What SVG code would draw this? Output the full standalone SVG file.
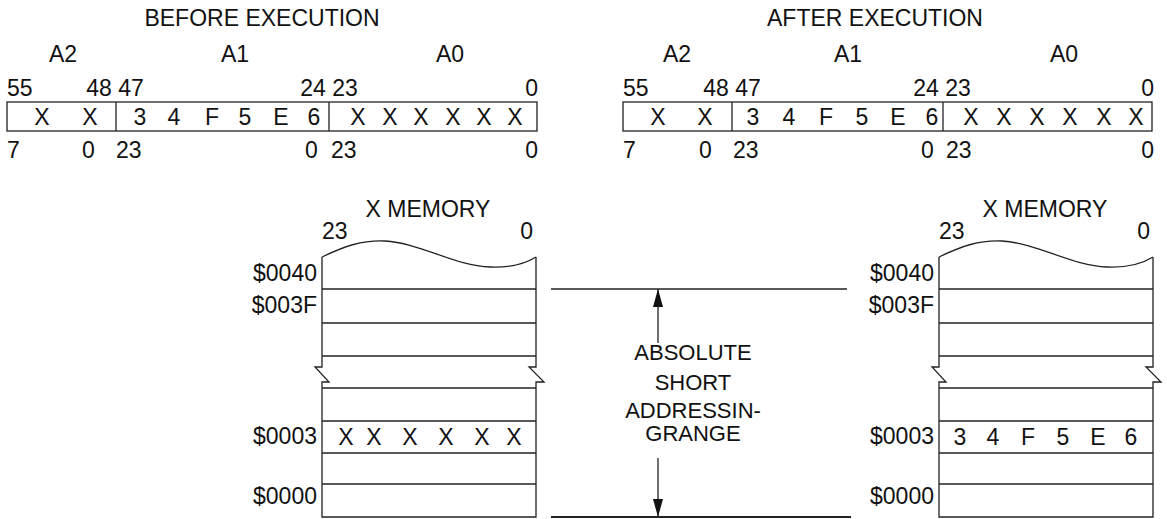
<svg xmlns="http://www.w3.org/2000/svg" width="1167" height="519" viewBox="0 0 1167 519">
<defs>
<style>
text{font-family:"Liberation Sans",Arial,sans-serif;font-size:23px;fill:#111}
.m{text-anchor:middle}
.e{text-anchor:end}
.s{font-size:22px}
.ln{stroke:#222;stroke-width:1.3;fill:none}
</style>
<marker id="ah" viewBox="0 0 18 10" refX="18" refY="5" markerWidth="18" markerHeight="10" markerUnits="userSpaceOnUse" orient="auto">
<path d="M0,0 L18,5 L0,10 Z" fill="#111"/>
</marker>
</defs>
<rect width="1167" height="519" fill="#fff"/>

<g id="before-register">
<text class="m" x="262" y="26">BEFORE EXECUTION</text>
<text class="m" x="63" y="62">A2</text>
<text class="m" x="235" y="62">A1</text>
<text class="m" x="450" y="62">A0</text>
<text x="7" y="96">55</text>
<text class="m" x="115" y="96">48 47</text>
<text class="m" x="329" y="96">24 23</text>
<text class="e" x="538" y="96">0</text>
<rect class="ln" x="7" y="102" width="530" height="29"/>
<line class="ln" x1="116" y1="102" x2="116" y2="131"/>
<line class="ln" x1="329" y1="102" x2="329" y2="131"/>
<text class="m" x="42" y="125">X</text>
<text class="m" x="90" y="125">X</text>
<text class="m" x="140" y="125">3</text>
<text class="m" x="174" y="125">4</text>
<text class="m" x="212" y="125">F</text>
<text class="m" x="245" y="125">5</text>
<text class="m" x="281" y="125">E</text>
<text class="m" x="314" y="125">6</text>
<text class="m" x="358" y="125">X</text>
<text class="m" x="390" y="125">X</text>
<text class="m" x="421" y="125">X</text>
<text class="m" x="453" y="125">X</text>
<text class="m" x="484" y="125">X</text>
<text class="m" x="515" y="125">X</text>
<text x="7" y="158">7</text>
<text x="82" y="158">0</text>
<text x="116" y="158">23</text>
<text x="305" y="158">0</text>
<text x="331" y="158">23</text>
<text class="e" x="538" y="158">0</text>
</g>

<g id="after-register">
<text class="m" x="875" y="26">AFTER EXECUTION</text>
<text class="m" x="677" y="62">A2</text>
<text class="m" x="848" y="62">A1</text>
<text class="m" x="1064" y="62">A0</text>
<text x="623" y="96">55</text>
<text class="m" x="732" y="96">48 47</text>
<text class="m" x="942" y="96">24 23</text>
<text class="e" x="1154" y="96">0</text>
<rect class="ln" x="623" y="102" width="529" height="29"/>
<line class="ln" x1="732" y1="102" x2="732" y2="131"/>
<line class="ln" x1="943" y1="102" x2="943" y2="131"/>
<text class="m" x="658" y="125">X</text>
<text class="m" x="705" y="125">X</text>
<text class="m" x="753" y="125">3</text>
<text class="m" x="789" y="125">4</text>
<text class="m" x="826" y="125">F</text>
<text class="m" x="862" y="125">5</text>
<text class="m" x="898" y="125">E</text>
<text class="m" x="932" y="125">6</text>
<text class="m" x="971" y="125">X</text>
<text class="m" x="1004" y="125">X</text>
<text class="m" x="1037" y="125">X</text>
<text class="m" x="1070" y="125">X</text>
<text class="m" x="1104" y="125">X</text>
<text class="m" x="1136" y="125">X</text>
<text x="623" y="158">7</text>
<text x="699" y="158">0</text>
<text x="733" y="158">23</text>
<text x="921" y="158">0</text>
<text x="946" y="158">23</text>
<text class="e" x="1154" y="158">0</text>
</g>

<g id="before-memory">
<text class="m" x="428" y="217">X MEMORY</text>
<text x="322" y="239">23</text>
<text class="e" x="533" y="239">0</text>
<path class="ln" d="M322,257 C345,246 362,240 385,241 C420,243 455,266 490,267 C515,268 528,262 536,257"/>
<path class="ln" d="M322,257 V367 H315 L329,382 H322 V517 H536 V382 H544 L529,367 H536 V257"/>
<line class="ln" x1="322" y1="289" x2="536" y2="289"/>
<line class="ln" x1="322" y1="323" x2="536" y2="323"/>
<line class="ln" x1="322" y1="356" x2="536" y2="356"/>
<line class="ln" x1="322" y1="388" x2="536" y2="388"/>
<line class="ln" x1="322" y1="421" x2="536" y2="421"/>
<line class="ln" x1="322" y1="453" x2="536" y2="453"/>
<line class="ln" x1="322" y1="484" x2="536" y2="484"/>
<text class="e" x="317" y="281">$0040</text>
<text class="e" x="317" y="313">$003F</text>
<text class="e" x="317" y="444">$0003</text>
<text class="e" x="317" y="504">$0000</text>
<text class="m" x="346" y="445">X</text>
<text class="m" x="374" y="445">X</text>
<text class="m" x="410" y="445">X</text>
<text class="m" x="446" y="445">X</text>
<text class="m" x="482" y="445">X</text>
<text class="m" x="514" y="445">X</text>
</g>

<g id="after-memory">
<text class="m" x="1045" y="217">X MEMORY</text>
<text x="939" y="239">23</text>
<text class="e" x="1150" y="239">0</text>
<path class="ln" d="M939,257 C962,246 979,240 1002,241 C1037,243 1072,266 1107,267 C1132,268 1145,262 1153,257"/>
<path class="ln" d="M939,257 V367 H932 L946,382 H939 V517 H1153 V382 H1161 L1146,367 H1153 V257"/>
<line class="ln" x1="939" y1="289" x2="1153" y2="289"/>
<line class="ln" x1="939" y1="323" x2="1153" y2="323"/>
<line class="ln" x1="939" y1="356" x2="1153" y2="356"/>
<line class="ln" x1="939" y1="388" x2="1153" y2="388"/>
<line class="ln" x1="939" y1="421" x2="1153" y2="421"/>
<line class="ln" x1="939" y1="453" x2="1153" y2="453"/>
<line class="ln" x1="939" y1="484" x2="1153" y2="484"/>
<text class="e" x="934" y="281">$0040</text>
<text class="e" x="934" y="313">$003F</text>
<text class="e" x="934" y="444">$0003</text>
<text class="e" x="934" y="504">$0000</text>
<text class="m" x="960" y="445">3</text>
<text class="m" x="993" y="445">4</text>
<text class="m" x="1028" y="445">F</text>
<text class="m" x="1063" y="445">5</text>
<text class="m" x="1098" y="445">E</text>
<text class="m" x="1131" y="445">6</text>
</g>

<g id="range-label">
<text class="m s" x="693" y="360">ABSOLUTE</text>
<text class="m s" x="693" y="390">SHORT</text>
<text class="m s" x="693" y="418">ADDRESSIN-</text>
<text class="m s" x="693" y="441">GRANGE</text>
</g>

<g id="connectors">
<line class="ln" x1="551" y1="289" x2="847" y2="289"/>
<line x1="551" y1="517" x2="851" y2="517" stroke="#222" stroke-width="2"/>
<line class="ln" x1="658" y1="343" x2="658" y2="289" marker-end="url(#ah)"/>
<line class="ln" x1="658" y1="458" x2="658" y2="517" marker-end="url(#ah)"/>
</g>
</svg>
